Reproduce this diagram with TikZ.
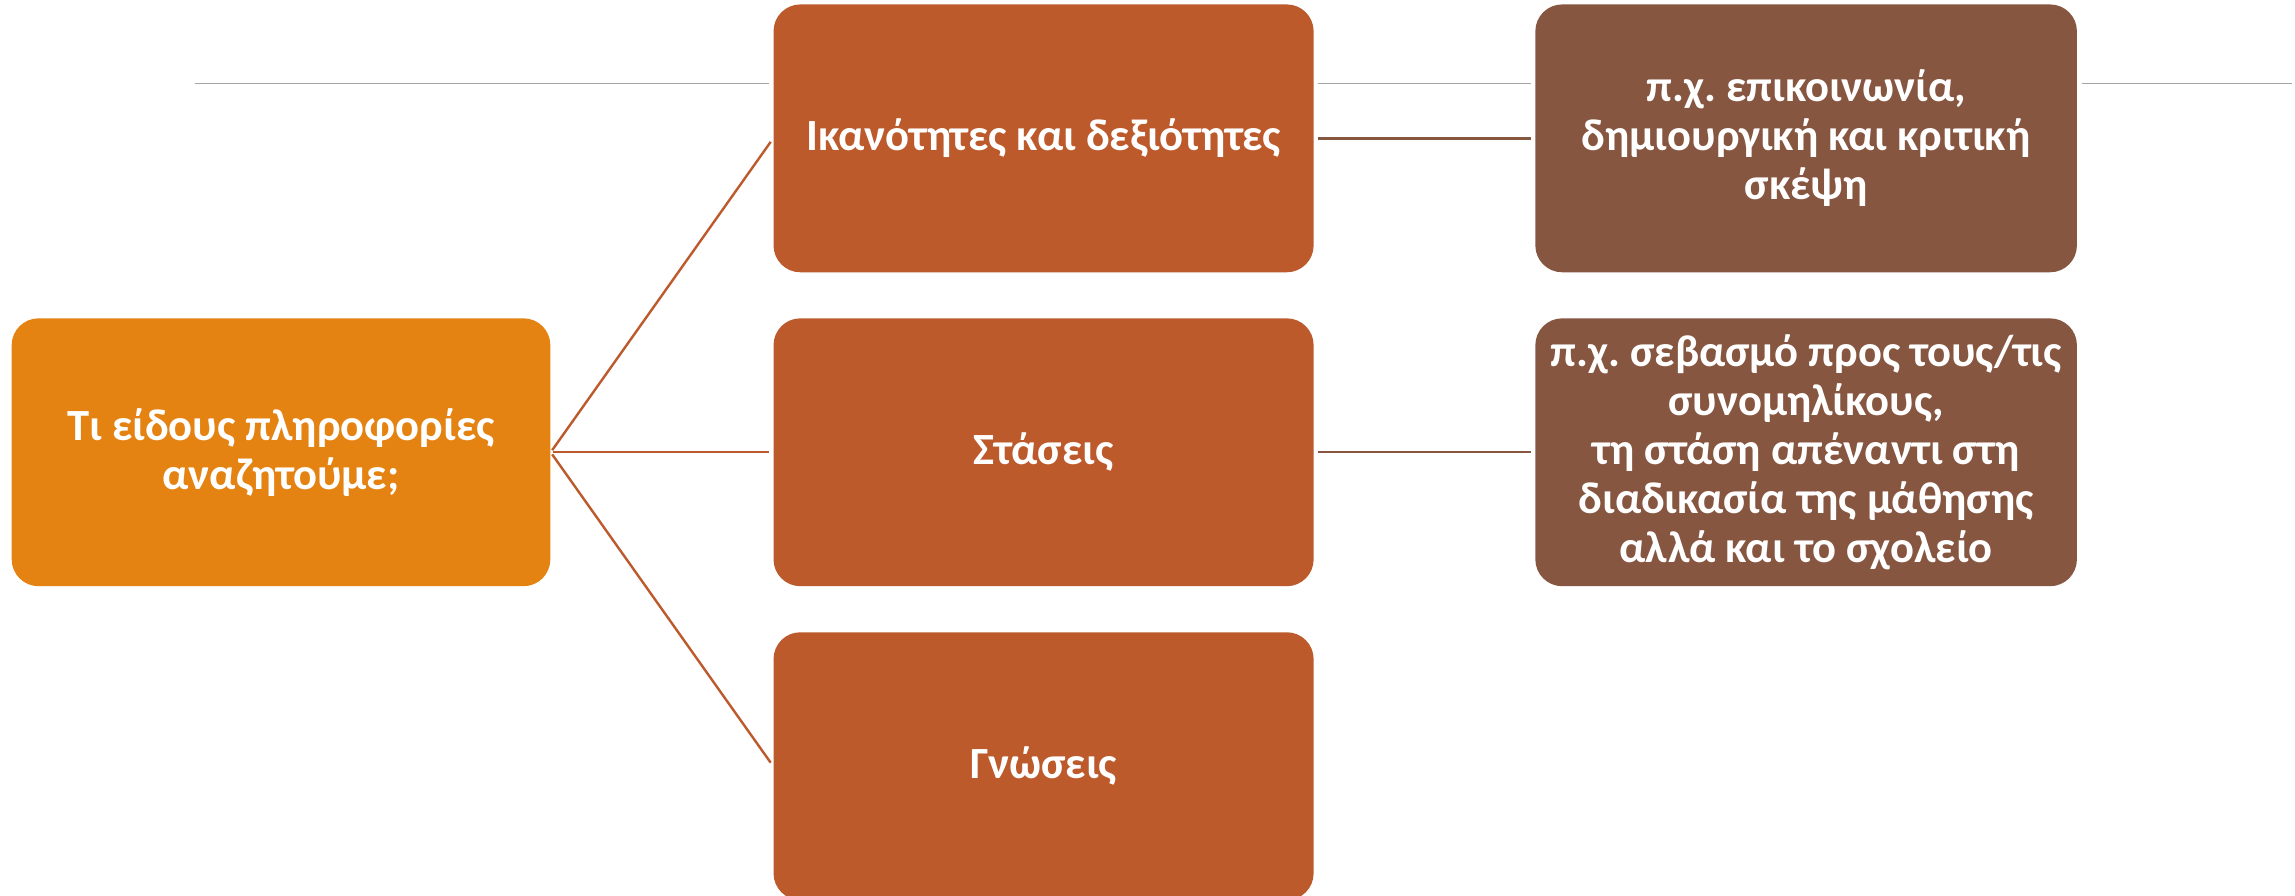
\documentclass[tikz,border=0pt]{standalone}
\usepackage{fontspec}
\setmainfont{Carlito}
\usetikzlibrary{positioning}

\definecolor{rootorange}{HTML}{E48312}
\definecolor{rust}{HTML}{BC5A2C}
\definecolor{brownish}{HTML}{875640}
\definecolor{rulegray}{HTML}{A6A6A6}

\frenchspacing

\begin{document}
\begin{tikzpicture}[%
    x=0.03cm,
    y=-0.03cm,
    base/.style={rectangle, rounded corners=0.55cm, align=center, text=white, inner sep=2pt, minimum height=5.49cm, font={\bfseries\fontsize{26}{28.5}\selectfont}},
    root/.style={base, fill=rootorange, minimum width=11.04cm},
    skill/.style={base, fill=rust, minimum width=11.07cm},
    example/.style={base, fill=brownish, minimum width=11.1cm},
    branch/.style={draw=rust, line width=1.4pt, shorten <=1.5pt, shorten >=2.5pt},
    link/.style={draw=brownish, line width=1.4pt, shorten <=2.5pt, shorten >=2.5pt},
    rule/.style={draw=rulegray, line width=1pt}
    ]

    \useasboundingbox (0,0) rectangle (1568,612);

    \node at (192,309) [root] (root) {Τι είδους πληροφορίες\\αναζητούμε;};

    \node [skill, right=4.56cm of root] (st) {Στάσεις};
    \node [skill, above=0.93cm of st] (ik) {Ικανότητες και δεξιότητες};
    \node [skill, below=0.93cm of st] (gn) {Γνώσεις};

    \node [example, right=4.53cm of ik] (egik) {π.χ. επικοινωνία,\\δημιουργική και κριτική\\σκέψη};
    \node [example, right=4.53cm of st] (egst) {π.χ. σεβασμό προς τους/τις\\συνομηλίκους,\\τη στάση απέναντι στη\\διαδικασία της μάθησης\\αλλά και το σχολείο};

    \draw[branch] (root.east) -- (ik.west);
    \draw[branch] (root.east) -- (st.west);
    \draw[branch] (root.east) -- (gn.west);

    \draw[link] (ik.east) -- (egik.west);
    \draw[link] (st.east) -- (egst.west);

    % grey rule across the top
    \coordinate (rulestart) at (133,57);
    \coordinate (ruleend) at (1566,57);
    \draw[rule, shorten >=2.5pt] (rulestart) -- (rulestart -| ik.west);
    \draw[rule, shorten <=2.5pt, shorten >=2.5pt] (rulestart -| ik.east) -- (rulestart -| egik.west);
    \draw[rule, shorten <=2.5pt] (rulestart -| egik.east) -- (ruleend);

\end{tikzpicture}
\end{document}
